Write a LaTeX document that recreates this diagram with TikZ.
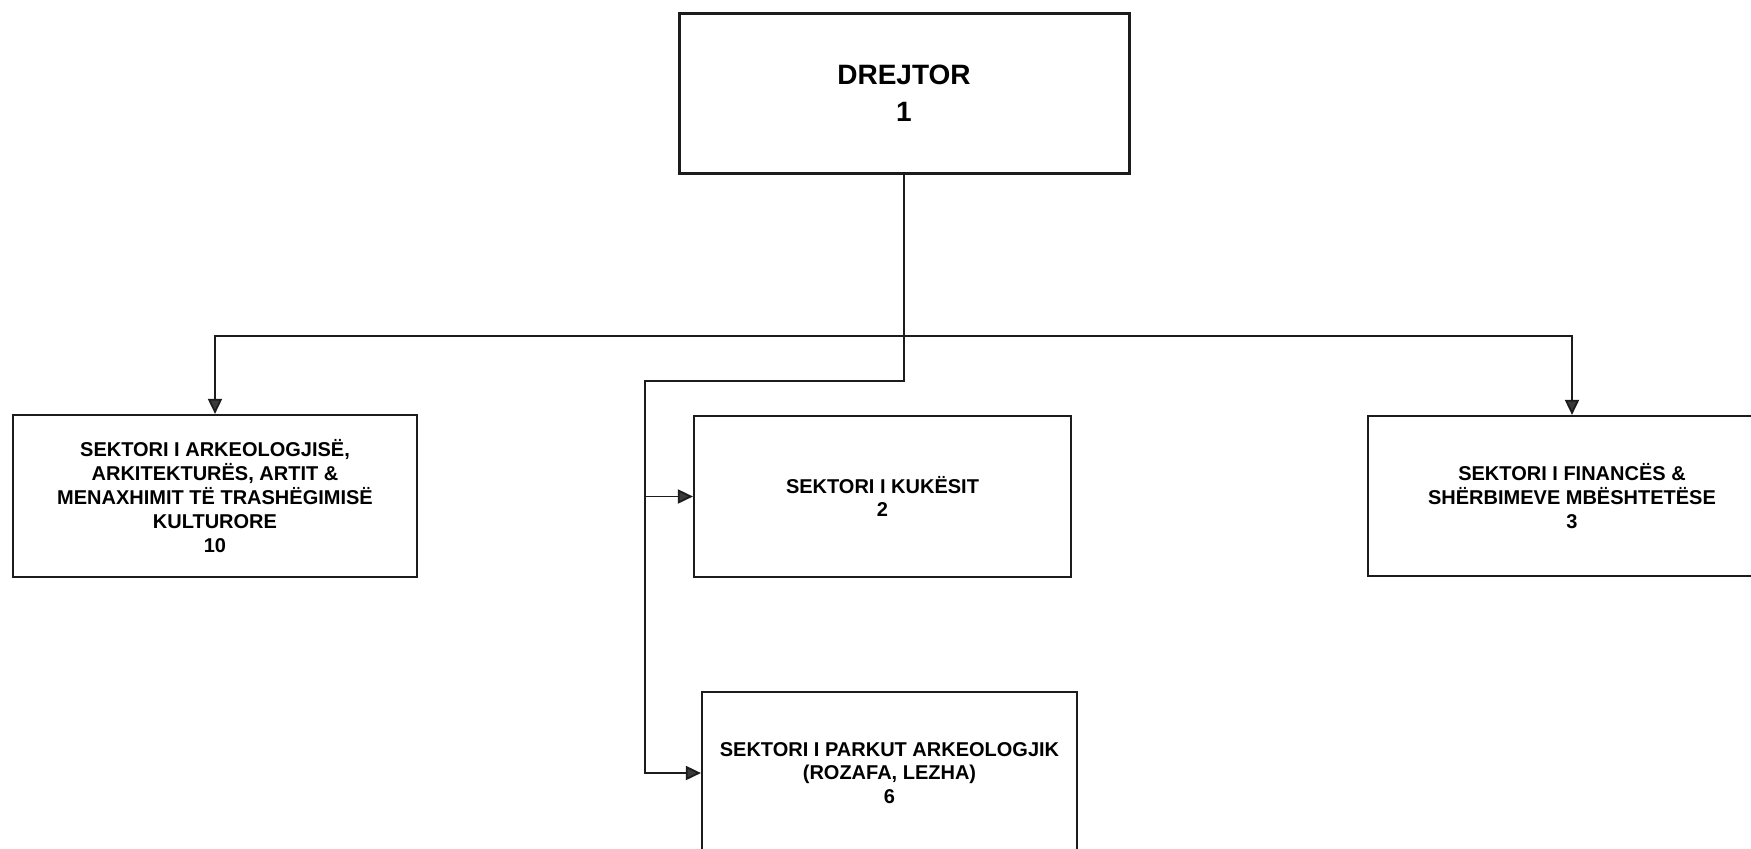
\documentclass[tikz,border=0pt]{standalone}
\usepackage{fontspec}
\setmainfont{Liberation Sans}
\usepackage{xcolor}
\usetikzlibrary{arrows.meta,positioning}
\definecolor{ink}{HTML}{1C1C1C}
\definecolor{tipgray}{HTML}{3A3A3A}
\tikzset{
  ubox/.style={draw=ink,line width=1.1pt,fill=white,align=center,inner sep=0pt,
    font=\fontsize{10}{11.9}\selectfont\bfseries},
  utop/.style={ubox,line width=1.5pt,font=\fontsize{14}{18.5}\selectfont\bfseries},
  uarr/.style={-{Triangle[length=7.5pt,width=7pt,fill=tipgray]},line width=0.9pt,draw=ink},
  uline/.style={line width=0.9pt,draw=ink}
}

\begin{document}
\begin{tikzpicture}[x=0.5pt,y=-0.5pt]
  \useasboundingbox[fill=white] (0,0) rectangle (1751,848);
  \clip (0,0) rectangle (1751,848);
  \node[utop,minimum width=225pt,minimum height=80pt] (dir) at (904,93) {DREJTOR\\ 1};
  \node[ubox,minimum width=202pt,minimum height=81pt] (arkeo) at (215,496)
    {SEKTORI I ARKEOLOGJISË,\\ ARKITEKTURËS, ARTIT \&\\ MENAXHIMIT TË TRASHËGIMISË\\ KULTURORE\\ 10};
  \node[ubox,minimum width=188.5pt,minimum height=80.5pt] (kuk) at (882.5,496.5) {SEKTORI I KUKËSIT\\ 2};
  \node[ubox,minimum width=204pt,minimum height=80pt] (fin) at (1572,496)
    {SEKTORI I FINANCËS \&\\ SHËRBIMEVE MBËSHTETËSE\\ 3};
  \node[ubox,minimum width=187.5pt,minimum height=81pt] (park) at (889.5,773)
    {SEKTORI I PARKUT ARKEOLOGJIK\\ (ROZAFA, LEZHA)\\ 6};
  % bus and spine
  \coordinate (bus) at (904,336);
  \coordinate (spine) at (645,381);
  \draw[uarr] (bus) -| (arkeo.north);
  \draw[uarr] (bus) -| (fin.north);
  \draw[uarr] (dir.south) |- (spine) |- (park.west);
  \draw[uarr] (spine |- kuk.west) -- (kuk.west);
\end{tikzpicture}
\end{document}
